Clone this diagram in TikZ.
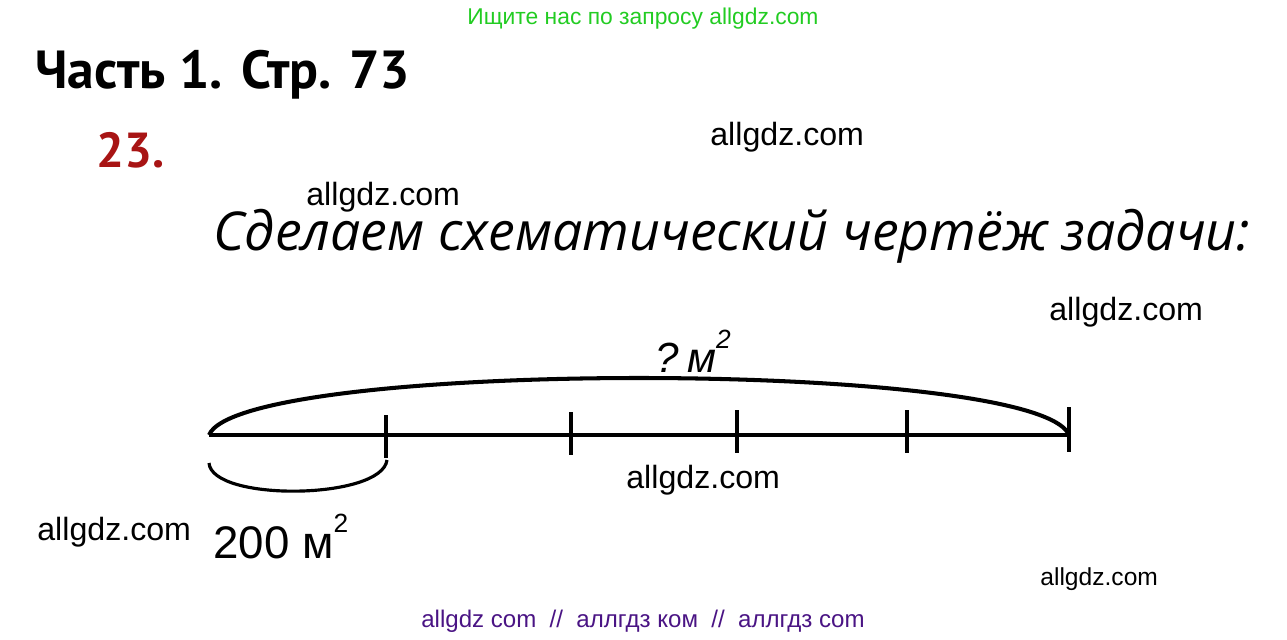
\documentclass[tikz,border=0pt]{standalone}
\usepackage{fontspec}
\setmainfont{Liberation Sans}
\newfontfamily\titlefont{PT Sans}
\newfontfamily\slantfont{Open Sans}
\usetikzlibrary{positioning}
\usepackage{xcolor}
\definecolor{SearchGreen}{HTML}{22CC22}
\definecolor{TaskRed}{HTML}{A81414}
\definecolor{FooterPurple}{HTML}{4A1484}
\newcommand{\sqsup}[1]{\raisebox{0.55em}{\fontsize{15}{15}\selectfont #1}}

\begin{document}
\begin{tikzpicture}[x=0.02cm, y=-0.02cm]
    \useasboundingbox (0,0) rectangle (1287,639);

    % Header
    \node[anchor=base, text=SearchGreen, font=\fontsize{13}{15}\selectfont] (search) at (643,24) {Ищите нас по запросу allgdz.com};
    \node[anchor=base west, inner sep=0pt, font=\titlefont\bfseries\fontsize{30.5}{32}\selectfont] (part) at (35,88) {Часть 1. Стр. 73};
    \node[anchor=base west, inner sep=0pt, text=TaskRed, font=\titlefont\bfseries\fontsize{28}{32}\selectfont] (num) at (96,167) {23.};
    \node[anchor=base west, inner sep=0pt, font=\slantfont\itshape\fontsize{30.5}{34}\selectfont] (task) at (213,250) {Сделаем схематический чертёж задачи:};

    % Watermarks
    \node[anchor=base west, inner sep=0pt, font=\fontsize{18.3}{20}\selectfont] (wm1) at (710,145) {allgdz.com};
    \node[anchor=base west, inner sep=0pt, font=\fontsize{18.3}{20}\selectfont] (wm2) at (306,205) {allgdz.com};
    \node[anchor=base west, inner sep=0pt, font=\fontsize{18.3}{20}\selectfont] (wm3) at (1049,320) {allgdz.com};
    \node[anchor=base west, inner sep=0pt, font=\fontsize{18.3}{20}\selectfont] (wm4) at (626,488) {allgdz.com};
    \node[anchor=base west, inner sep=0pt, font=\fontsize{18.3}{20}\selectfont] (wm5) at (37,540) {allgdz.com};
    \node[anchor=base west, inner sep=0pt, font=\fontsize{14}{16}\selectfont] (wm6) at (1040,585) {allgdz.com};

    % Segment points
    \coordinate (p0) at (209,435);
    \coordinate (p1) at (386,435);
    \coordinate (p2) at (571,435);
    \coordinate (p3) at (737,435);
    \coordinate (p4) at (907,435);
    \coordinate (p5) at (1069,435);
    \coordinate (b0) at (209,463);
    \coordinate (b1) at (387,460);

    % Line and ticks
    \draw[line width=2.3pt] (p0) -- (p5);
    \draw[line width=1.8pt] (p1) ++(0,-20) -- ++(0,43);
    \draw[line width=1.8pt] (p2) ++(0,-23) -- ++(0,43);
    \draw[line width=1.8pt] (p3) ++(0,-25) -- ++(0,43);
    \draw[line width=1.8pt] (p4) ++(0,-25) -- ++(0,43);
    \draw[line width=2.3pt] (p5) ++(0,-28) -- ++(0,45);

    % Braces
    \draw[line width=2.3pt] (p0) .. controls (240,359) and (1038,359) .. (p5);
    \draw[line width=1.8pt] (b0) .. controls (212,502) and (382,500) .. (b1);

    % Labels
    \node[anchor=base west, inner sep=0pt, font=\itshape\fontsize{24}{26}\selectfont] (total) at (655,372) {?\hspace{0.2em}м\sqsup{2}};
    \node[anchor=base west, inner sep=0pt, font=\fontsize{26}{30}\selectfont] (part1) at (213,558) {200 м\sqsup{2}};

    % Footer
    \node[anchor=base, text=FooterPurple, font=\fontsize{13.7}{16}\selectfont] (footer) at (643,627) {allgdz com\ \ //\ \ аллгдз ком\ \ //\ \ аллгдз com};
\end{tikzpicture}
\end{document}
